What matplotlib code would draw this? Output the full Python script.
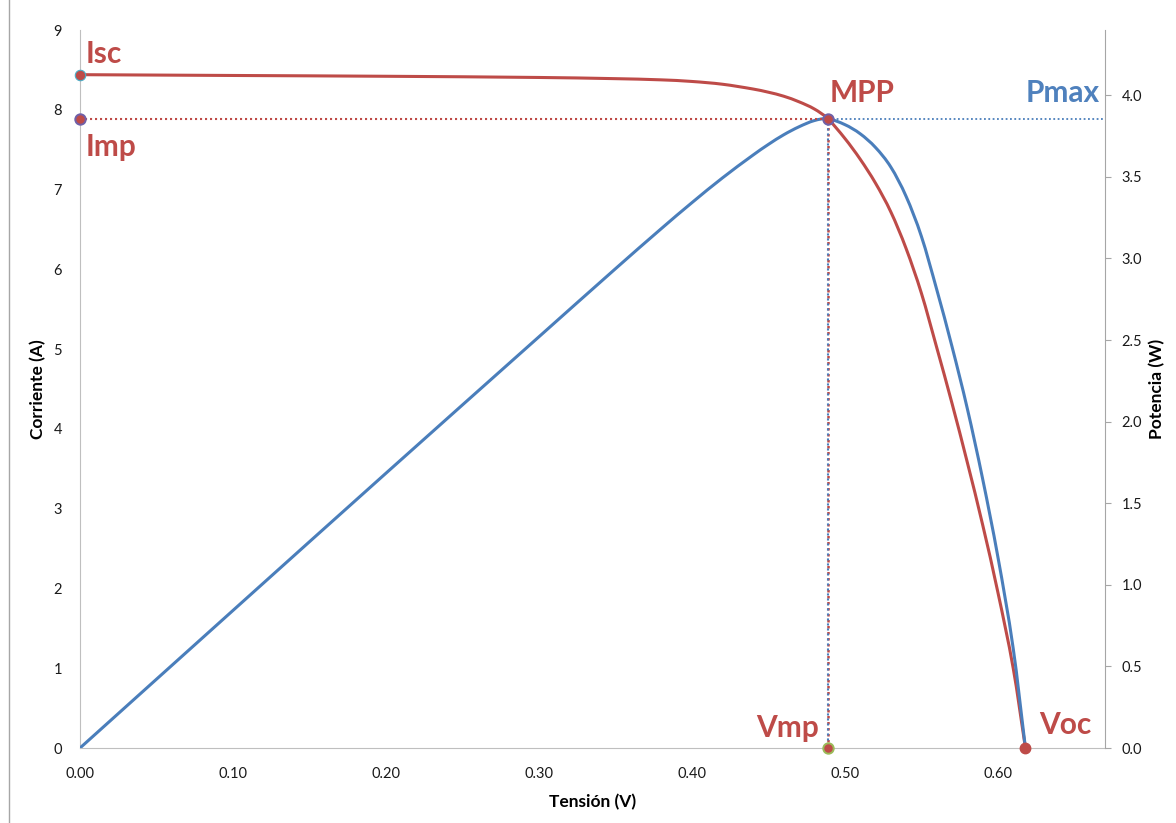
import matplotlib
matplotlib.use("Agg")
import matplotlib.pyplot as plt
from matplotlib.lines import Line2D
from matplotlib.path import Path
from matplotlib.patches import PathPatch

plt.rcParams["font.family"] = ["Lato", "DejaVu Sans"]

# ── Curva I-V y P-V de una celda solar ─────────────────────────────────────────
tension = [0.00, 0.10, 0.20, 0.30, 0.35, 0.38, 0.40, 0.42, 0.44, 0.45, 0.46,
           0.47, 0.48, 0.4887, 0.50, 0.51, 0.52, 0.53, 0.54, 0.55, 0.56, 0.57,
           0.58, 0.59, 0.60, 0.61, 0.618]
corriente = [8.44, 8.43, 8.42, 8.405, 8.39, 8.375, 8.355, 8.32, 8.26, 8.22,
             8.17, 8.10, 8.01, 7.89, 7.64, 7.38, 7.08, 6.72, 6.26, 5.70, 5.02,
             4.32, 3.58, 2.80, 1.95, 1.00, 0.00]
potencia = [0.00, 0.843, 1.684, 2.52, 2.937, 3.183, 3.342, 3.494, 3.634, 3.699,
            3.758, 3.807, 3.845, 3.856, 3.82, 3.764, 3.68, 3.56, 3.38, 3.135,
            2.81, 2.46, 2.08, 1.65, 1.17, 0.61, 0.00]

# puntos característicos
Isc, Imp, Vmp, Voc, Pmax = 8.44, 7.89, 0.4887, 0.618, 3.856

ROJO  = "#BE4B48"
AZUL  = "#4A7EBB"
GRIS  = "#BFBFBF"


def linea_suavizada(xs, ys):
    """Path de Bézier cúbico que pasa por los puntos (línea suavizada)."""
    n = len(xs)
    pend = []
    for i in range(n):
        a, b = max(i - 1, 0), min(i + 1, n - 1)
        pend.append((ys[b] - ys[a]) / (xs[b] - xs[a]))
    verts = [(xs[0], ys[0])]
    codes = [Path.MOVETO]
    for i in range(n - 1):
        h = (xs[i + 1] - xs[i]) / 3
        verts += [(xs[i] + h, ys[i] + pend[i] * h),
                  (xs[i + 1] - h, ys[i + 1] - pend[i + 1] * h),
                  (xs[i + 1], ys[i + 1])]
        codes += [Path.CURVE4] * 3
    return Path(verts, codes)


fig = plt.figure(figsize=(11.76, 8.23), dpi=100)
ax = fig.add_axes([80 / 1176, 1 - 748 / 823, (1105 - 80) / 1176, (748 - 30) / 823])
ax2 = ax.twinx()

# ── Ejes ──────────────────────────────────────────────────────────────────────
ax.set_xlim(0, 0.67)
ax.set_ylim(0, 9)
ax2.set_ylim(0, 4.4)
ax.set_xticks([0.0, 0.1, 0.2, 0.3, 0.4, 0.5, 0.6])
ax.set_xticklabels([f"{v:.2f}" for v in ax.get_xticks()])
ax.set_yticks(range(10))
ax2.set_yticks([0.0, 0.5, 1.0, 1.5, 2.0, 2.5, 3.0, 3.5, 4.0])
ax2.set_yticklabels([f"{v:.1f}" for v in ax2.get_yticks()])

for a in (ax, ax2):
    a.spines["top"].set_visible(False)
    a.patch.set_visible(False)
ax.spines["right"].set_visible(False)
ax.spines["left"].set_color(GRIS)
ax.spines["bottom"].set_color(GRIS)
ax2.spines["left"].set_visible(False)
ax2.spines["bottom"].set_visible(False)
ax2.spines["right"].set_color("#A6A6A6")

ax.tick_params(axis="both", length=0, labelsize=10.5, colors="#1a1a1a")
ax.tick_params(axis="y", pad=13)
ax.tick_params(axis="x", pad=14)
ax2.tick_params(axis="y", length=4, color="#A6A6A6", labelsize=10.5,
                labelcolor="#1a1a1a", pad=8)

ax.set_xlabel("Tensión (V)", fontsize=12.5, fontweight="bold", labelpad=9)
ax.set_ylabel("Corriente (A)", fontsize=12.5, fontweight="bold", labelpad=5)
ax2.set_ylabel("Potencia (W)", fontsize=12.5, fontweight="bold", labelpad=5)

# ── Curvas ────────────────────────────────────────────────────────────────────
ax.add_patch(PathPatch(linea_suavizada(tension, corriente), fill=False,
                       edgecolor=ROJO, lw=2.2, capstyle="round"))
ax2.add_patch(PathPatch(linea_suavizada(tension, potencia), fill=False,
                        edgecolor=AZUL, lw=2.2, capstyle="round"))

# líneas auxiliares punteadas
dots = (0, (1, 1.4))
ax2.plot([0, Vmp], [Imp, Imp], transform=ax.transData, color=ROJO, lw=1.5,
         linestyle=dots)
ax2.plot([Vmp, 0.67], [Pmax, Pmax], color=AZUL, lw=1.3, linestyle=dots)
ax2.plot([Vmp, Vmp], [0, Imp], transform=ax.transData, color=ROJO, lw=1.8,
         linestyle=dots)
ax2.plot([Vmp, Vmp], [0, Pmax], color=AZUL, lw=1.5, linestyle=(1.2, (1, 1.4)))

# marcadores
mk = dict(marker="o", ms=7.5, mfc=ROJO, linestyle="none", transform=ax.transData,
          clip_on=False, zorder=5)
ax2.plot([0], [Isc], mec="#4BACC6", mew=0.8, **mk)
ax2.plot([0], [Imp], mec="#7060A8", mew=1.4, **mk)
ax2.plot([Vmp], [Imp], mec="#7060A8", mew=1.4, **mk)
ax2.plot([Vmp], [0], mec="#9BBB59", mew=1.4, **mk)
ax2.plot([Voc], [0], mec=ROJO, mew=1.0, **mk)

# ── Etiquetas ─────────────────────────────────────────────────────────────────
lab = dict(fontsize=21.5, fontweight="bold", va="baseline", transform=ax.transData)
ax2.text(0.004, 8.59, "Isc", color=ROJO, ha="left", **lab)
ax2.text(0.004, 7.42, "Imp", color=ROJO, ha="left", **lab)
ax2.text(0.490, 8.10, "MPP", color=ROJO, ha="left", **lab)
ax2.text(0.6667, 8.10, "Pmax", color="#4F81BD", ha="right", **lab)
ax2.text(0.483, 0.134, "Vmp", color=ROJO, ha="right", **lab)
ax2.text(0.627, 0.17, "Voc", color=ROJO, ha="left", **lab)

# borde del área del gráfico
fig.add_artist(Line2D([8.5 / 1176, 8.5 / 1176], [0, 1], color="#A6A6A6", lw=1))

fig.savefig("out.png", dpi=100)
